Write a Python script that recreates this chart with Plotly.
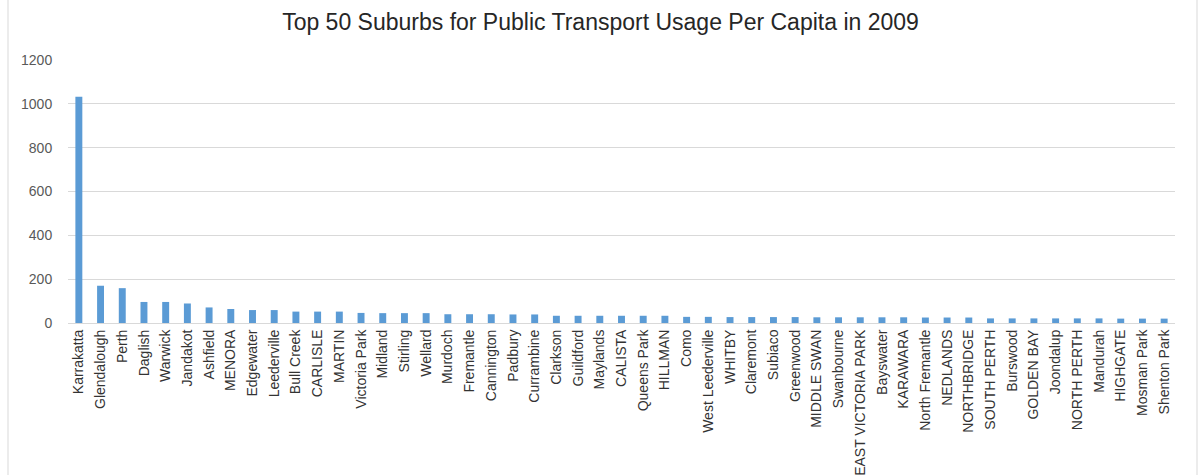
import plotly.graph_objects as go

suburbs = [
    "Karrakatta", "Glendalough", "Perth", "Daglish", "Warwick", "Jandakot",
    "Ashfield", "MENORA", "Edgewater", "Leederville", "Bull Creek", "CARLISLE",
    "MARTIN", "Victoria Park", "Midland", "Stirling", "Wellard", "Murdoch",
    "Fremantle", "Cannington", "Padbury", "Currambine", "Clarkson", "Guildford",
    "Maylands", "CALISTA", "Queens Park", "HILLMAN", "Como", "West Leederville",
    "WHITBY", "Claremont", "Subiaco", "Greenwood", "MIDDLE SWAN", "Swanbourne",
    "EAST VICTORIA PARK", "Bayswater", "KARAWARA", "North Fremantle", "NEDLANDS",
    "NORTHBRIDGE", "SOUTH PERTH", "Burswood", "GOLDEN BAY", "Joondalup",
    "NORTH PERTH", "Mandurah", "HIGHGATE", "Mosman Park", "Shenton Park",
]

usage_per_capita = [
    1032, 170, 159, 96, 96, 89,
    71, 64, 59, 59, 52, 52,
    52, 46, 45, 45, 45, 40,
    40, 40, 39, 39, 33, 33,
    33, 33, 33, 33, 28, 28,
    27, 27, 27, 27, 26, 26,
    26, 26, 26, 25, 25,
    25, 21, 21, 21, 21,
    21, 21, 20, 20, 20,
]

y_ticks = [0, 200, 400, 600, 800, 1000, 1200]

fig = go.Figure(
    go.Bar(
        x=suburbs,
        y=usage_per_capita,
        marker=dict(color="#5B9BD5", line=dict(width=0)),
    )
)

fig.update_layout(
    width=1201,
    height=475,
    margin=dict(l=68, r=26, t=60, b=152),
    paper_bgcolor="white",
    plot_bgcolor="white",
    bargap=0.68,
    showlegend=False,
    font=dict(family="Liberation Sans, sans-serif", color="#595959"),
    title=dict(
        text="Top 50 Suburbs for Public Transport Usage Per Capita in 2009",
        x=0.5,
        xanchor="center",
        y=1 - 22 / 475,
        yanchor="middle",
        font=dict(size=23, color="#262626", family="Liberation Sans, sans-serif"),
    ),
    xaxis=dict(
        tickangle=-90,
        tickfont=dict(size=14, color="#333333"),
        showline=True,
        linecolor="#D9D9D9",
        linewidth=1,
        ticks="",
        showgrid=False,
        automargin=False,
    ),
    yaxis=dict(
        range=[0, 1200],
        tickvals=y_ticks,
        ticktext=[str(v) for v in y_ticks],
        tickfont=dict(size=14, color="#595959"),
        showgrid=True,
        gridcolor="#D9D9D9",
        gridwidth=1,
        zeroline=False,
        showline=False,
        ticks="outside",
        ticklen=12,
        tickcolor="white",
        automargin=False,
    ),
    shapes=[
        dict(type="line", xref="paper", yref="paper",
             x0=-60 / 1107, x1=-60 / 1107, y0=-1, y1=1.3,
             line=dict(color="#D9D9D9", width=1)),
        dict(type="line", xref="paper", yref="paper",
             x0=1 + 22 / 1107, x1=1 + 22 / 1107, y0=-1, y1=1.3,
             line=dict(color="#D9D9D9", width=1)),
    ],
)

fig.write_html("out.html")
